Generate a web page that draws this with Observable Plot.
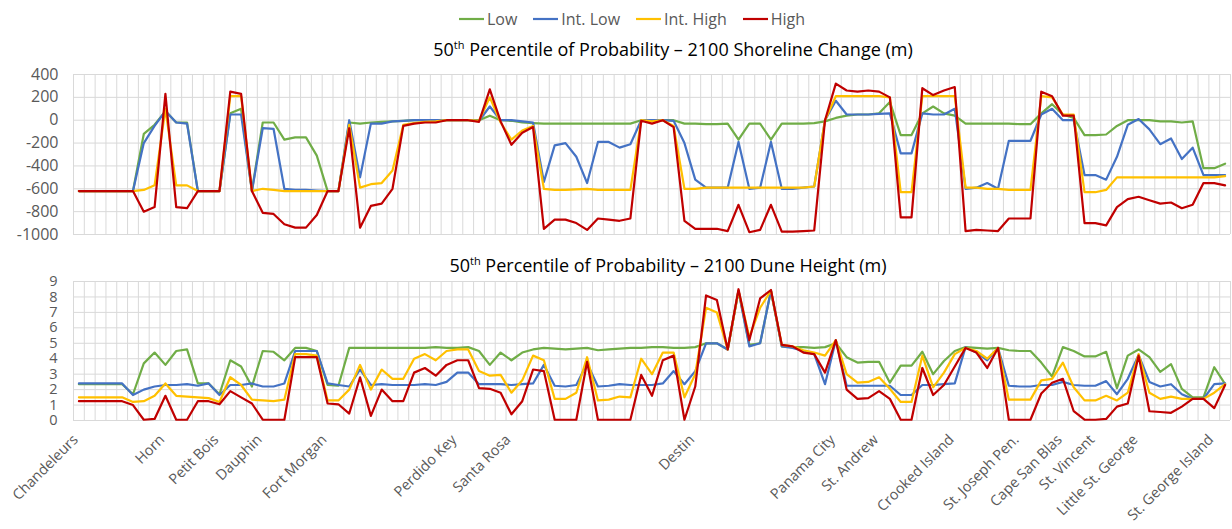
<!DOCTYPE html>
<html><head><meta charset="utf-8">
<script src="https://cdn.jsdelivr.net/npm/d3@7"></script>
<script src="https://cdn.jsdelivr.net/npm/@observablehq/plot@0.6"></script>
<style>
body{margin:0;background:#fff;font-family:"Open Sans",sans-serif;}
#wrap{position:relative;width:1232px;height:529px;overflow:hidden;background:#fff;}
.legend{position:absolute;top:8px;left:0;width:1232px;padding-left:32px;box-sizing:border-box;display:flex;justify-content:center;gap:16px;font-size:16px;color:#595959;z-index:3;}
.item{display:flex;align-items:center;gap:3px}
.title{position:absolute;left:0;width:1232px;box-sizing:border-box;text-align:center;font-size:18px;color:#000;white-space:nowrap;z-index:3;}
.title sup{font-size:11px;}
.chart{position:absolute;left:0;z-index:1;}
</style></head>
<body><div id="wrap">
<div class="legend" id="legend"></div>
<div class="chart" id="c1" style="top:64px"></div>
<div class="chart" id="c2" style="top:270px"></div>
<div class="title" style="top:37px;padding-left:114px">50<sup>th</sup> Percentile of Probability – 2100 Shoreline Change (m)</div>
<div class="title" style="top:253px;padding-left:104px">50<sup>th</sup> Percentile of Probability – 2100 Dune Height (m)</div>
</div>
<script>
const seriesNames = ["Low","Int. Low","Int. High","High"];
const seriesColors = ["#70AD47","#4472C4","#FFC000","#C00000"];

const locationNames = ["Chandeleurs","Horn","Petit Bois","Dauphin","Fort Morgan","Perdido Key","Santa Rosa","Destin","Panama City","St. Andrew","Crooked Island","St. Joseph Pen.","Cape San Blas","St. Vincent","Little St. George","St. George Island"];
const locationIndex = [0,8,13,17,23,35,40,57,70,74,81,87,91,94,98,105];

const shoreTicks = [-1000,-800,-600,-400,-200,0,200,400];
const duneTicks = [0,1,2,3,4,5,6,7,8,9];

// Shoreline change (m)
const shoreLow = [-620,-620,-620,-620,-620,-620,-120,-40,80,-20,-20,-620,-620,-620,60,100,-620,-20,-20,-170,-150,-150,-310,-620,-620,-20,-30,-20,-15,-10,-5,0,0,0,0,0,0,0,40,0,-5,-20,-25,-30,-30,-30,-30,-30,-30,-30,-30,-30,0,0,0,0,-30,-30,-35,-35,-30,-170,-30,-30,-170,-30,-30,-30,-25,-10,20,40,50,50,60,160,-130,-130,60,120,60,40,-30,-30,-30,-30,-30,-35,-35,60,140,50,20,-130,-130,-125,-50,0,0,0,-10,-10,-20,-10,-420,-420,-380];
const shoreIntLow = [-620,-620,-620,-620,-620,-620,-200,-50,80,-20,-30,-620,-620,-620,50,50,-620,-70,-75,-600,-610,-610,-615,-620,-620,0,-500,-30,-30,-10,-5,0,0,0,0,0,0,-5,120,0,0,-10,-20,-540,-220,-200,-320,-550,-190,-190,-240,-210,0,0,0,-5,-200,-520,-590,-590,-590,-190,-600,-590,-190,-600,-600,-590,-580,0,170,50,50,50,55,60,-290,-290,60,50,50,100,-600,-590,-550,-600,-180,-180,-180,50,100,0,0,-480,-480,-520,-320,-40,10,-80,-210,-160,-340,-240,-480,-480,-480];
const shoreIntHigh = [-620,-620,-620,-620,-620,-620,-610,-570,100,-570,-570,-620,-620,-620,210,210,-620,-600,-610,-620,-620,-620,-620,-620,-620,-40,-590,-560,-550,-440,-40,-25,-15,-10,0,0,0,-5,200,-20,-170,-90,-50,-600,-610,-610,-605,-600,-610,-610,-610,-610,0,-10,0,-50,-600,-600,-590,-590,-590,-590,-590,-590,-590,-590,-590,-590,-580,0,210,210,210,210,210,200,-630,-630,210,210,210,210,-590,-590,-600,-600,-610,-610,-610,210,200,50,50,-630,-630,-610,-500,-500,-500,-500,-500,-500,-500,-500,-500,-500,-490];
const shoreHigh = [-620,-620,-620,-620,-620,-620,-800,-760,230,-760,-770,-620,-620,-620,250,230,-620,-810,-820,-910,-940,-940,-830,-620,-620,-70,-940,-750,-730,-600,-50,-30,-20,-20,0,0,0,-15,270,-10,-215,-110,-60,-950,-870,-870,-900,-960,-860,-870,-880,-860,-5,-30,0,-60,-880,-950,-950,-950,-970,-740,-980,-960,-740,-975,-975,-970,-965,0,320,260,250,260,250,200,-850,-850,280,220,260,290,-970,-960,-965,-970,-860,-860,-860,250,210,40,40,-900,-900,-920,-760,-690,-670,-700,-730,-720,-770,-740,-550,-550,-570];

// Dune height (m)
const duneLow = [2.35,2.35,2.35,2.35,2.35,1.7,3.7,4.4,3.6,4.5,4.6,2.4,2.4,1.7,3.9,3.5,2.2,4.5,4.45,3.9,4.7,4.7,4.5,2.3,2.25,4.7,4.7,4.7,4.7,4.7,4.7,4.7,4.7,4.75,4.7,4.7,4.75,4.5,3.6,4.4,3.9,4.4,4.6,4.7,4.65,4.6,4.65,4.7,4.55,4.6,4.65,4.7,4.7,4.75,4.75,4.7,4.7,4.75,5.0,5.0,4.6,8.4,4.9,5.0,8.4,4.8,4.75,4.75,4.7,4.75,5.0,4.1,3.75,3.8,3.8,2.45,3.55,3.55,4.45,3.0,3.85,4.5,4.75,4.7,4.65,4.7,4.55,4.5,4.5,3.75,2.85,4.75,4.5,4.15,4.15,4.45,2.1,4.2,4.6,4.1,3.15,3.65,2.05,1.5,1.5,3.45,2.35];
const duneIntLow = [2.4,2.4,2.4,2.4,2.4,1.65,2.0,2.2,2.3,2.3,2.35,2.25,2.4,1.65,2.3,2.3,2.4,2.2,2.2,2.4,4.5,4.5,4.5,2.4,2.3,2.2,3.3,2.3,2.35,2.3,2.3,2.3,2.35,2.3,2.5,3.1,3.1,2.35,2.35,2.35,2.3,2.35,2.4,3.6,2.25,2.2,2.3,3.7,2.2,2.25,2.35,2.3,2.3,2.3,2.4,3.2,2.35,3.2,5.0,5.0,4.6,8.4,4.8,5.0,8.4,4.8,4.7,4.5,4.3,2.35,5.2,2.25,2.25,2.25,2.25,2.25,1.65,1.65,2.3,2.3,2.35,2.4,4.75,4.4,3.9,4.7,2.25,2.2,2.2,2.3,2.3,2.5,2.3,2.25,2.25,2.55,1.7,2.7,4.25,2.5,2.2,2.35,1.7,1.4,1.4,2.35,2.4];
const duneIntHigh = [1.5,1.5,1.5,1.5,1.5,1.2,1.25,1.6,2.4,1.6,1.55,1.5,1.45,1.2,2.8,2.3,1.35,1.3,1.25,1.35,4.3,4.3,4.2,1.3,1.3,2.0,3.6,2.0,3.3,2.7,2.7,4.0,4.3,3.9,4.5,4.6,4.6,3.2,2.9,2.95,1.8,2.6,4.2,3.9,1.4,1.4,1.8,4.1,1.3,1.35,1.55,1.5,4.0,3.0,4.4,4.4,1.5,3.0,7.3,7.0,4.6,8.4,5.4,7.3,8.4,4.9,4.8,4.55,4.4,4.2,5.2,3.0,2.45,2.5,2.8,2.05,1.2,1.2,4.2,2.15,3.1,4.3,4.7,4.5,4.0,4.7,1.35,1.35,1.35,2.6,2.7,3.75,2.15,1.3,1.3,1.6,1.3,1.8,4.3,1.8,1.4,1.55,1.4,1.4,1.4,1.8,2.35];
const duneHigh = [1.25,1.25,1.25,1.25,1.25,1.0,0.05,0.1,1.6,0.05,0.05,1.25,1.25,1.05,1.9,1.5,1.1,0.05,0.05,0.05,4.1,4.1,4.1,1.1,1.05,0.45,2.8,0.3,2.0,1.25,1.25,3.1,3.4,2.9,3.6,3.9,3.9,2.1,2.05,1.8,0.4,1.25,3.3,3.2,0.05,0.05,0.05,3.8,0.05,0.05,0.05,0.05,2.95,1.6,3.9,4.2,0.05,2.2,8.1,7.8,4.6,8.5,5.2,7.9,8.45,4.9,4.8,4.4,4.3,3.1,5.2,2.0,1.4,1.45,1.9,1.4,0.05,0.05,3.4,1.65,2.3,3.5,4.7,4.4,3.4,4.7,0.05,0.05,0.05,1.75,2.45,2.7,0.6,0.05,0.05,0.1,0.9,1.1,4.2,0.6,0.55,0.5,0.9,1.4,1.4,0.8,2.3];

const n = shoreLow.length;
const toRows = (sets) => sets.flatMap((vals, k) => vals.map((v, i) => ({i, v, s: seriesNames[k]})));
const shoreData = toRows([shoreLow, shoreIntLow, shoreIntHigh, shoreHigh]);
const duneData = toRows([duneLow, duneIntLow, duneIntHigh, duneHigh]);
const bounds = d3.range(n + 1).map(k => k - 0.5);

// Legend
const leg = document.getElementById("legend");
seriesNames.forEach((s, k) => {
  const it = document.createElement("div");
  it.className = "item";
  it.innerHTML = `<svg width="25" height="4"><line x1="0" x2="25" y1="2" y2="2" stroke="${seriesColors[k]}" stroke-width="2.2"/></svg><span>${s}</span>`;
  leg.appendChild(it);
});

const common = {
  width: 1232,
  marginLeft: 73,
  marginRight: 2,
  color: {domain: seriesNames, range: seriesColors},
  style: {fontFamily: "Open Sans, sans-serif", background: "transparent"}
};

const c1 = Plot.plot({
  ...common,
  height: 180,
  marginTop: 10,
  marginBottom: 10,
  x: {domain: [-0.5, n - 0.5], axis: null},
  y: {domain: [-1000, 400]},
  marks: [
    Plot.ruleX(bounds, {stroke: "#d9d9d9", strokeWidth: 1}),
    Plot.ruleY(shoreTicks, {stroke: "#d9d9d9", strokeWidth: 1}),
    Plot.axisY({ticks: shoreTicks, tickSize: 0, tickPadding: 15, fontSize: 16, fill: "#595959", tickFormat: d => String(d), label: null}),
    Plot.line(shoreData, {x: "i", y: "v", z: "s", stroke: "s", strokeWidth: 2.2})
  ]
});
document.getElementById("c1").appendChild(c1);

const c2 = Plot.plot({
  ...common,
  height: 259,
  marginTop: 11,
  marginBottom: 109,
  x: {domain: [-0.5, n - 0.5], axis: null},
  y: {domain: [0, 9]},
  marks: [
    Plot.ruleX(bounds, {stroke: "#d9d9d9", strokeWidth: 1}),
    Plot.ruleY(duneTicks, {stroke: "#d9d9d9", strokeWidth: 1}),
    Plot.axisY({ticks: duneTicks, tickSize: 0, tickPadding: 16, fontSize: 14.5, fill: "#595959", label: null}),
    Plot.text(locationIndex, {x: d => d, text: (d, k) => locationNames[k], frameAnchor: "bottom", dy: 20,
      rotate: -45, textAnchor: "end", fontSize: 14.5, fill: "#595959"}),
    Plot.line(duneData, {x: "i", y: "v", z: "s", stroke: "s", strokeWidth: 2.2})
  ]
});
document.getElementById("c2").appendChild(c2);
</script>
</body></html>
